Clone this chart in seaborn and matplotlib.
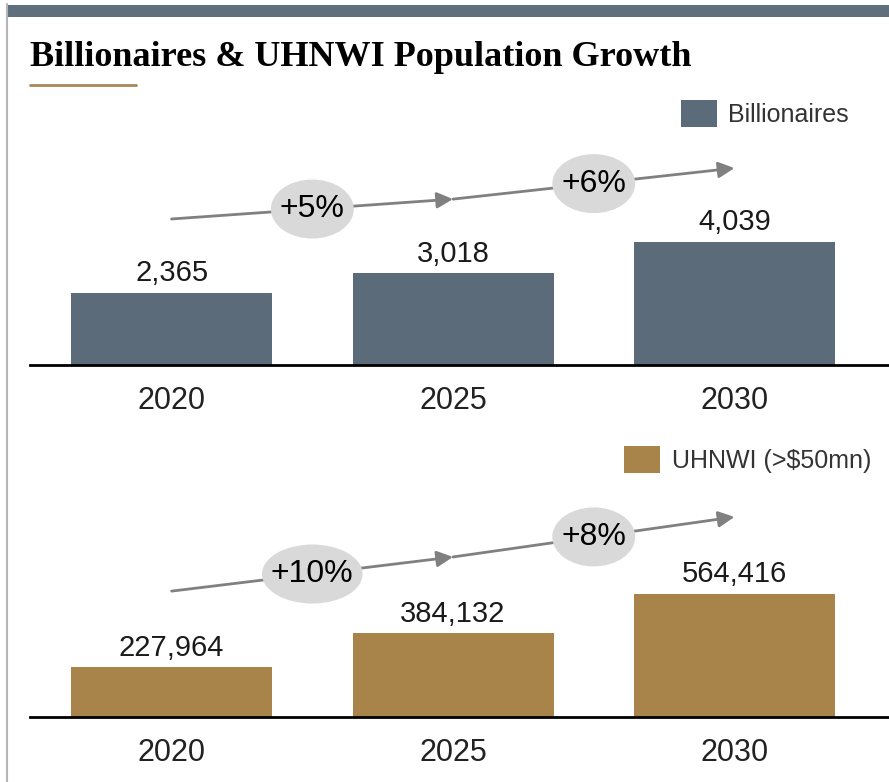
import matplotlib
matplotlib.use("Agg")
import matplotlib.pyplot as plt
import matplotlib.transforms as mtransforms
from matplotlib.patches import Ellipse, Patch, Rectangle
from matplotlib.lines import Line2D
import pandas as pd
import seaborn as sns

# Data
years = ["2020", "2025", "2030"]
billionaires = [2365, 3018, 4039]
uhnwi = [227964, 384132, 564416]
billionaire_growth = ["+5%", "+6%"]
uhnwi_growth = ["+10%", "+8%"]
billionaire_label = "Billionaires"
uhnwi_label = "UHNWI (>$50mn)"
title = "Billionaires & UHNWI Population Growth"

SLATE = "#5b6b7a"
GOLD = "#a8834a"
ARROW = "#808080"
BUBBLE = "#d9d9d9"
TEXT = "#1a1a1a"

sns.set_theme(style="white")
plt.rcParams["font.family"] = ["Liberation Sans", "DejaVu Sans"]

W, H = 889, 782
fig = plt.figure(figsize=(W / 100, H / 100), dpi=100)
fig.patch.set_facecolor("white")


def px_rect(left, top, right, bottom):
    return [left / W, 1 - bottom / H, (right - left) / W, (bottom - top) / H]


ax_top = fig.add_axes(px_rect(30, 100, 889, 365))
ax_bot = fig.add_axes(px_rect(30, 452, 889, 717))
renderer = fig.canvas.get_renderer()

CAT_PX = 281.5  # pixel distance between category centres
AX_H_PX = 265


def draw_panel(ax, values, color, label, growth, arrow_y, legend_anchor):
    df = pd.DataFrame({"year": years, "value": values})
    sns.barplot(data=df, x="year", y="value", color=color, saturation=1,
                width=0.714, ax=ax, edgecolor="none")
    ax.set_xlim(-0.503, 2.549)
    ax.set_ylim(0, max(values) * AX_H_PX / 123)
    ax.set_xlabel("")
    ax.set_ylabel("")
    ax.set_yticks([])
    ax.set_facecolor("none")
    sns.despine(ax=ax, left=True)
    ax.spines["bottom"].set_color("black")
    ax.spines["bottom"].set_linewidth(2)
    ax.tick_params(axis="x", length=0, labelsize=22, pad=15, labelcolor="#222222")

    ax.bar_label(ax.containers[0], labels=[f"{v:,}" for v in values],
                 padding=4, fontsize=21, color=TEXT)

    trans = mtransforms.blended_transform_factory(ax.transData, ax.transAxes)
    # growth arrows between consecutive years
    for i in range(len(values) - 1):
        ax.annotate("", xy=(i + 1, arrow_y[i + 1]), xytext=(i, arrow_y[i]),
                    xycoords=trans, textcoords=trans,
                    arrowprops=dict(arrowstyle="-|>,head_length=0.6,head_width=0.3",
                                    color=ARROW, lw=2, shrinkA=0, shrinkB=0,
                                    mutation_scale=16), zorder=3)
    # growth rate bubbles on the arrow midpoints
    for i, g in enumerate(growth):
        xm = i + 0.5
        ym = (arrow_y[i] + arrow_y[i + 1]) / 2
        t = ax.text(xm, ym, g, transform=trans, ha="center", va="center",
                    fontsize=23, color="black", zorder=6)
        tw = t.get_window_extent(renderer).width
        ew = max(78, tw + 18)
        ax.add_patch(Ellipse((xm, ym), ew / CAT_PX, 59 / AX_H_PX,
                             transform=trans, facecolor=BUBBLE,
                             edgecolor="none", zorder=5))

    ax.legend(handles=[Patch(facecolor=color, edgecolor="none", label=label)],
              loc="upper right", bbox_to_anchor=legend_anchor,
              bbox_transform=fig.transFigure, frameon=False, fontsize=18,
              labelcolor="#333333", handlelength=1.45, handleheight=1.3,
              handletextpad=0.45, borderpad=0, borderaxespad=0)


draw_panel(ax_top, billionaires, SLATE, billionaire_label, billionaire_growth,
           [0.551, 0.626, 0.743], (849 / W, 1 - 100 / H))
draw_panel(ax_bot, uhnwi, GOLD, uhnwi_label, uhnwi_growth,
           [0.475, 0.604, 0.755], (871 / W, 1 - 446 / H))

# frame decorations: top band and left rule
fig.add_artist(Rectangle((6 / W, 1 - 17 / H), (W - 6) / W, 12 / H,
                         transform=fig.transFigure, facecolor="#5f6f7e",
                         edgecolor="none"))
fig.add_artist(Line2D([6.5 / W, 6.5 / W], [0, 1 - 4 / H],
                      transform=fig.transFigure, color="#b5b5b5", lw=1.5))

fig.text(30 / W, 1 - 57 / H, title, fontsize=26, fontweight="bold",
         family=["Liberation Serif", "DejaVu Serif"], va="center", ha="left",
         color="black")
fig.add_artist(Line2D([30 / W, 136 / W], [1 - 85 / H, 1 - 85 / H],
                      transform=fig.transFigure, color="#a8875a", lw=2))

fig.savefig("out.png", dpi=100)
